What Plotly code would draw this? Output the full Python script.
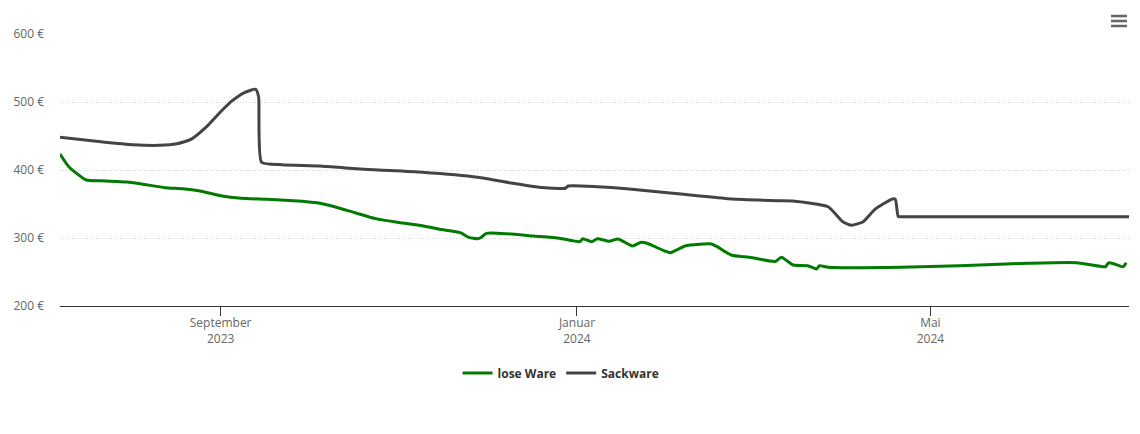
import plotly.graph_objects as go

# lose Ware (green)
lose_dates = ["2023-07-08", "2023-07-11", "2023-07-17", "2023-07-22", "2023-07-31", "2023-08-05",
              "2023-08-13", "2023-08-19", "2023-08-25", "2023-09-01", "2023-09-08", "2023-09-17",
              "2023-09-26", "2023-10-04", "2023-10-10", "2023-10-17", "2023-10-24", "2023-11-01",
              "2023-11-09", "2023-11-15", "2023-11-22", "2023-11-25", "2023-11-28", "2023-11-29",
              "2023-12-01", "2023-12-08", "2023-12-17", "2023-12-26", "2024-01-02", "2024-01-03",
              "2024-01-06", "2024-01-08", "2024-01-12", "2024-01-15", "2024-01-17", "2024-01-20",
              "2024-01-23", "2024-01-25", "2024-01-31", "2024-02-02", "2024-02-07", "2024-02-12",
              "2024-02-16", "2024-02-18", "2024-02-23", "2024-02-29", "2024-03-07", "2024-03-09",
              "2024-03-11", "2024-03-15", "2024-03-20", "2024-03-23", "2024-03-24", "2024-03-27",
              "2024-04-21", "2024-05-11", "2024-06-03", "2024-06-20", "2024-06-29", "2024-06-30",
              "2024-07-01", "2024-07-03", "2024-07-06", "2024-07-07"]
lose_values = [423.5, 404.9, 385.3, 384.3, 382.4, 379.4,
               374.0, 372.5, 369.1, 362.2, 358.4, 356.9,
               354.9, 351.9, 346.0, 337.2, 328.5, 322.8,
               318.1, 312.8, 307.8, 301.0, 298.9, 300.4,
               306.9, 306.3, 302.9, 299.6, 294.6, 299.0,
               294.6, 299.0, 295.1, 298.5, 294.6, 288.2,
               293.7, 292.2, 280.9, 278.4, 288.2, 290.7,
               291.2, 287.2, 274.6, 271.6, 266.2, 265.7,
               271.6, 260.3, 259.3, 254.4, 259.3, 256.9,
               256.9, 259.3, 262.8, 263.7, 257.8, 258.0,
               263.5, 261.8, 257.8, 263.7]

# Sackware (dark grey)
sack_dates = ["2023-07-08", "2023-07-22", "2023-08-02", "2023-08-11", "2023-08-17", "2023-08-22",
              "2023-08-27", "2023-09-01", "2023-09-05", "2023-09-09", "2023-09-13", "2023-09-14",
              "2023-09-15", "2023-09-22", "2023-10-05", "2023-10-15", "2023-10-25", "2023-11-09",
              "2023-11-28", "2023-12-10", "2023-12-19", "2023-12-28", "2023-12-29", "2024-01-08",
              "2024-01-18", "2024-02-01", "2024-02-12", "2024-02-23", "2024-03-10", "2024-03-15",
              "2024-03-27", "2024-04-01", "2024-04-04", "2024-04-08", "2024-04-12", "2024-04-18",
              "2024-04-19", "2024-04-20", "2024-04-21", "2024-04-25", "2024-05-15", "2024-06-15",
              "2024-07-03", "2024-07-08"]
sack_values = [448.1, 441.6, 437.2, 436.3, 438.5, 445.5,
               463.0, 485.7, 502.0, 513.5, 518.7, 507.8,
               411.3, 407.8, 405.9, 402.5, 400.0, 396.6,
               389.3, 380.4, 374.6, 373.1, 376.5, 375.4,
               372.5, 366.6, 361.8, 357.4, 354.9, 354.4,
               346.0, 324.0, 318.7, 324.0, 342.2, 357.4,
               356.9, 331.3, 331.3, 331.3, 331.3, 331.3,
               331.3, 331.3]

tick_vals = ["2023-09-01", "2024-01-01", "2024-05-01"]
tick_text = ["September<br>2023", "Januar<br>2024", "Mai<br>2024"]

FONT = "Open Sans, DejaVu Sans, sans-serif"

# page offset of the plot (body margin 8px): plot area at page x 60..1129, y 34..306
L, R, T, B = 52, 19, 26, 136
PW = 1140 - L - R
PH = 434 - T - B

fig = go.Figure()
fig.add_trace(go.Scatter(x=lose_dates, y=lose_values, name="lose Ware", mode="lines",
                         line=dict(color="#007a00", width=3, shape="spline", smoothing=0.5)))
fig.add_trace(go.Scatter(x=sack_dates, y=sack_values, name="Sackware", mode="lines",
                         line=dict(color="#444444", width=3, shape="spline", smoothing=0.5)))

fig.update_layout(
    width=1140, height=434,
    margin=dict(l=L, r=R, t=T, b=B, autoexpand=False),
    paper_bgcolor="white", plot_bgcolor="white",
    font=dict(family=FONT, size=12, color="#666666"),
    showlegend=True,
    legend=dict(orientation="h", x=0.4687, xanchor="center", y=-0.246, yanchor="middle",
                font=dict(family=FONT, size=12, color="#333333", weight="bold"),
                itemwidth=30, traceorder="normal"),
    xaxis=dict(type="date", range=["2023-07-08", "2024-07-08"],
               tickvals=tick_vals, ticktext=tick_text, automargin=False,
               showgrid=False, zeroline=False,
               showline=True, linecolor="#333333", linewidth=1,
               ticks="outside", ticklen=9, tickcolor="#333333", tickwidth=1,
               ticklabelstandoff=-3,
               tickfont=dict(family=FONT, size=12, color="#666666"), fixedrange=True),
    yaxis=dict(range=[200, 600], dtick=100, ticksuffix=" €", automargin=False,
               showgrid=True, gridcolor="#d4d4d4", griddash="1px,2px", gridwidth=1,
               zeroline=False, showline=False, ticks="", ticklabelstandoff=15,
               tickfont=dict(family=FONT, size=12, color="#666666"), fixedrange=True),
)

# context menu icon (top right), page x 1111..1127, y 16/21/26
for yy in [16, 21, 26]:
    fig.add_shape(type="line", xref="paper", yref="paper",
                  x0=(1111 - 8 - L) / PW, x1=(1127 - 8 - L) / PW,
                  y0=(PH + T - (yy - 8)) / PH, y1=(PH + T - (yy - 8)) / PH,
                  line=dict(color="#666666", width=2.5))

fig.write_html("out.html", config={"displayModeBar": False})
